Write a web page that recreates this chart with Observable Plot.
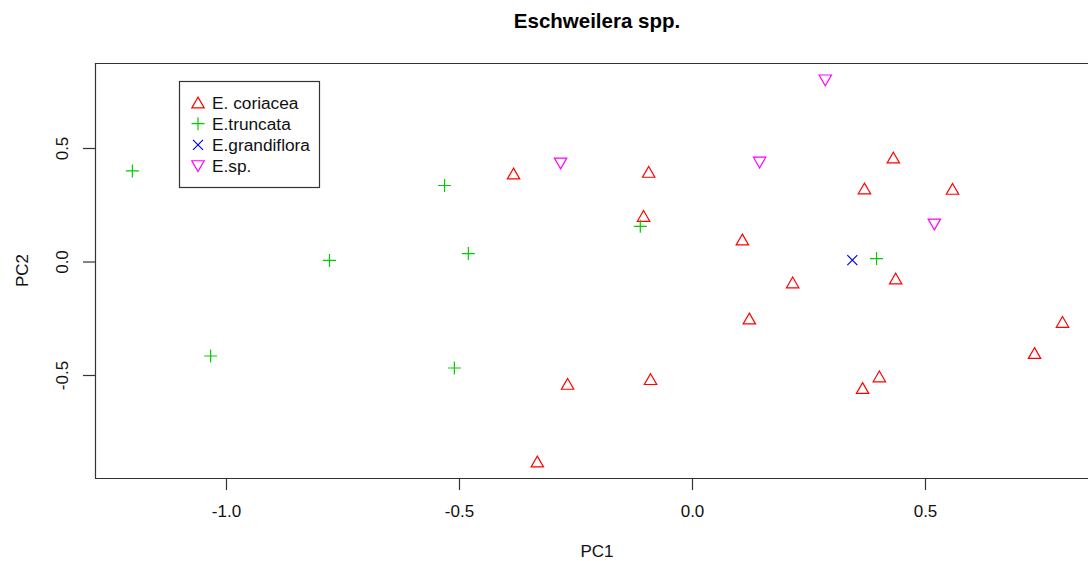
<!DOCTYPE html>
<html>
<head>
<meta charset="utf-8">
<script src="https://cdn.jsdelivr.net/npm/d3@7"></script>
<script src="https://cdn.jsdelivr.net/npm/@observablehq/plot@0.6"></script>
<style>
  html, body { margin: 0; padding: 0; background: #fff; }
  #chart svg { display: block; }
</style>
</head>
<body>
<div id="chart"></div>
<script>
// ---- data ----
const species = ["E. coriacea", "E.truncata", "E.grandiflora", "E.sp."];
const speciesColors = ["#FF0000", "#00CD00", "#0000FF", "#FF00FF"];

const coriaceaPC1 = [-0.384, -0.094, -0.105, 0.107, 0.369, 0.431, 0.558, 0.436, 0.215, 0.122, -0.268, -0.090, -0.333, 0.365, 0.401, 0.734, 0.794];
const coriaceaPC2 = [0.390, 0.397, 0.203, 0.099, 0.324, 0.460, 0.322, -0.073, -0.090, -0.249, -0.537, -0.516, -0.879, -0.555, -0.504, -0.401, -0.264];

const truncataPC1 = [-1.202, -1.034, -0.779, -0.532, -0.481, -0.511, -0.112, 0.395];
const truncataPC2 = [0.401, -0.414, 0.007, 0.337, 0.037, -0.467, 0.157, 0.015];

const grandifloraPC1 = [0.343];
const grandifloraPC2 = [0.008];

const spPC1 = [-0.283, 0.144, 0.285, 0.519];
const spPC2 = [0.434, 0.438, 0.800, 0.165];

const xTicks = [-1.0, -0.5, 0.0, 0.5];
const yTicks = [-0.5, 0.0, 0.5];
const xDomain = [-1.2811, 0.8498];
const yDomain = [-0.9537, 0.8744];

const titleText = "Eschweilera spp.";
const xLabel = "PC1";
const yLabel = "PC2";

// ---- table ----
const toRows = (xs, ys, sp) => xs.map((x, i) => ({pc1: x, pc2: ys[i], species: sp}));
const rows = [
  ...toRows(coriaceaPC1, coriaceaPC2, species[0]),
  ...toRows(truncataPC1, truncataPC2, species[1]),
  ...toRows(grandifloraPC1, grandifloraPC2, species[2]),
  ...toRows(spPC1, spPC2, species[3])
];

// ---- R-like symbols (size = pi r^2) ----
const rad = s => Math.sqrt(s / Math.PI);
const triUp = {draw(c, s) { const r = rad(s), h = r * Math.sqrt(3);
  c.moveTo(0, -h / 2); c.lineTo(r, h / 2); c.lineTo(-r, h / 2); c.closePath(); }};
const triDown = {draw(c, s) { const r = rad(s), h = r * Math.sqrt(3);
  c.moveTo(0, h / 2); c.lineTo(r, -h / 2); c.lineTo(-r, -h / 2); c.closePath(); }};
const plus = {draw(c, s) { const r = rad(s);
  c.moveTo(-r, 0); c.lineTo(r, 0); c.moveTo(0, -r); c.lineTo(0, r); }};
const times = {draw(c, s) { const r = rad(s);
  c.moveTo(-r, -r); c.lineTo(r, r); c.moveTo(-r, r); c.lineTo(r, -r); }};
const symbols = [triUp, plus, times, triDown];
const symR = [6.2, 6.5, 5.0, 6.2];

const font = "Liberation Sans, Arial, Helvetica, sans-serif";
const W = 1088, H = 561;
const fmt = d => d.toFixed(1); // ASCII hyphen minus, like R

const dotMarks = species.map((sp, i) =>
  Plot.dot(rows.filter(d => d.species === sp), {
    x: "pc1", y: "pc2", symbol: () => symbols[i], r: symR[i],
    stroke: speciesColors[i], strokeWidth: 1.2, fill: "none"
  })
);

const plot = Plot.plot({
  width: W, height: H,
  marginLeft: 95, marginRight: 0, marginTop: 63, marginBottom: 83,
  style: {fontFamily: font, fontSize: "17px", background: "#fff", color: "#000"},
  x: {domain: xDomain, axis: null},
  y: {domain: yDomain, axis: null},
  symbol: {type: "identity"},
  marks: [
    // frame (right side cut off)
    Plot.ruleY([yDomain[1]], {stroke: "#333", strokeWidth: 1.2}),
    Plot.ruleY([yDomain[0]], {stroke: "#333", strokeWidth: 1.2}),
    Plot.ruleX([xDomain[0]], {stroke: "#333", strokeWidth: 1.2}),
    // x axis
    Plot.axisX({ticks: xTicks, tickSize: 12, tickPadding: 14, tickFormat: fmt,
      anchor: "bottom", label: null, stroke: "#333", strokeWidth: 1.2, fontSize: 17, fill: "#111"}),
    Plot.ruleY([yDomain[0]], {x1: xTicks[0], x2: xTicks[xTicks.length - 1], stroke: "#333", strokeWidth: 1.2}),
    // y axis ticks
    Plot.axisY({ticks: yTicks, tickSize: 12, tickFormat: () => "", anchor: "left",
      label: null, stroke: "#333", strokeWidth: 1.2}),
    Plot.text(yTicks, {x: xDomain[0], y: d => d, text: fmt,
      rotate: -90, dx: -33, textAnchor: "middle", fontSize: 17, fill: "#111"}),
    ...dotMarks
  ]
});

const svg = d3.select(plot);
// title
svg.append("text").attr("x", 597).attr("y", 28).attr("text-anchor", "middle")
  .attr("font-family", font).attr("font-weight", "bold").attr("font-size", 20.5)
  .attr("fill", "#000").text(titleText);
// axis labels
svg.append("text").attr("x", 597).attr("y", 557).attr("text-anchor", "middle")
  .attr("font-family", font).attr("font-size", 17).attr("fill", "#111").text(xLabel);
svg.append("text").attr("transform", "translate(28,270.5) rotate(-90)").attr("text-anchor", "middle")
  .attr("font-family", font).attr("font-size", 17).attr("fill", "#111").text(yLabel);

// legend
const lg = svg.append("g");
lg.append("rect").attr("x", 179.5).attr("y", 81.5).attr("width", 140).attr("height", 106)
  .attr("fill", "#fff").attr("stroke", "#333").attr("stroke-width", 1.2);
species.forEach((sp, i) => {
  const cy = 102.5 + i * 21.2;
  lg.append("path")
    .attr("d", d3.symbol().type(symbols[i]).size(Math.PI * symR[i] * symR[i])())
    .attr("transform", `translate(198,${cy})`)
    .attr("fill", "none").attr("stroke", speciesColors[i]).attr("stroke-width", 1.2);
  lg.append("text").attr("x", 212).attr("y", cy + 6).attr("text-anchor", "start")
    .attr("font-family", font).attr("font-size", 17.3).attr("fill", "#111").text(sp);
});

document.getElementById("chart").appendChild(plot);
</script>
</body>
</html>
